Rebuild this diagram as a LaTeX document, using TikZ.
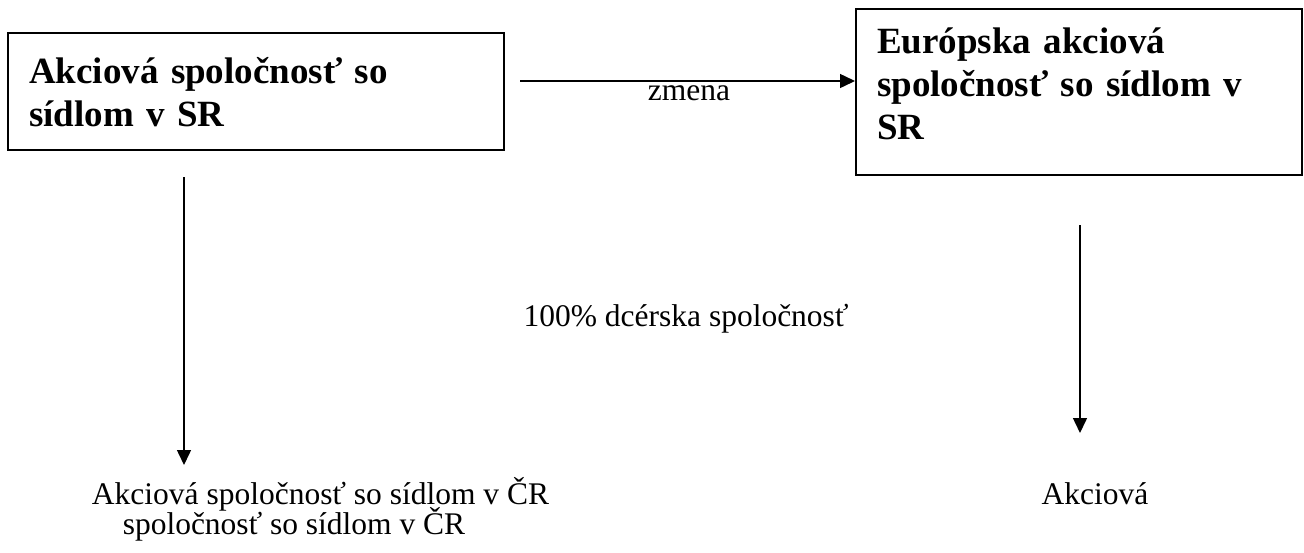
\documentclass[tikz,border=0pt]{standalone}
\usepackage{fontspec}
\setmainfont{Liberation Serif}
\usetikzlibrary{arrows.meta}
\begin{document}
\begin{tikzpicture}[x=1pt,y=-1pt,
  boxnode/.style={draw, line width=2pt, inner sep=0pt, minimum width=#1},
  boldtxt/.style={inner sep=0pt, text width=440pt, align=left, anchor=base west,
    font=\fontsize{37}{43}\selectfont\bfseries},
  plaintxt/.style={inner sep=0pt, anchor=base, font=\fontsize{31.5}{36}\selectfont},
  arr/.style={line width=1.5pt, -{Triangle[length=15pt,width=14pt]}}]
\useasboundingbox (0,0) rectangle (1304,552);
% boxes
\node[boxnode=496.5pt, minimum height=117pt] (b1) at (255.75,91.5) {};
\node[boxnode=446pt, minimum height=166pt] (b2) at (1079,92) {};
\node[boldtxt] (t1) at (29,83) {Akciová spoločnosť so\\sídlom v SR};
\node[boldtxt] (t2) at (877,53) {Európska akciová\\spoločnosť so sídlom v\\SR};
% horizontal arrow
\coordinate (h1) at (520,81);
\draw[arr] (h1) -- (b2.west |- h1);
\node[plaintxt] (zm) at (689,100) {zmena};
% vertical arrows
\coordinate (v1s) at (184,177);
\coordinate (v1e) at (184,465);
\draw[arr] (v1s) -- (v1e);
\coordinate (v2s) at (1080,225);
\coordinate (v2e) at (1080,433);
\draw[arr] (v2s) -- (v2e);
% labels
\node[plaintxt] (dc) at (686,326) {100\% dcérska spoločnosť};
\node[plaintxt] (l1) at (320.5,504) {Akciová spoločnosť so sídlom v ČR};
\node[plaintxt] (l2) at (294,534) {spoločnosť so sídlom v ČR};
\node[plaintxt] (r1) at (1095,504) {Akciová};
\end{tikzpicture}
\end{document}
